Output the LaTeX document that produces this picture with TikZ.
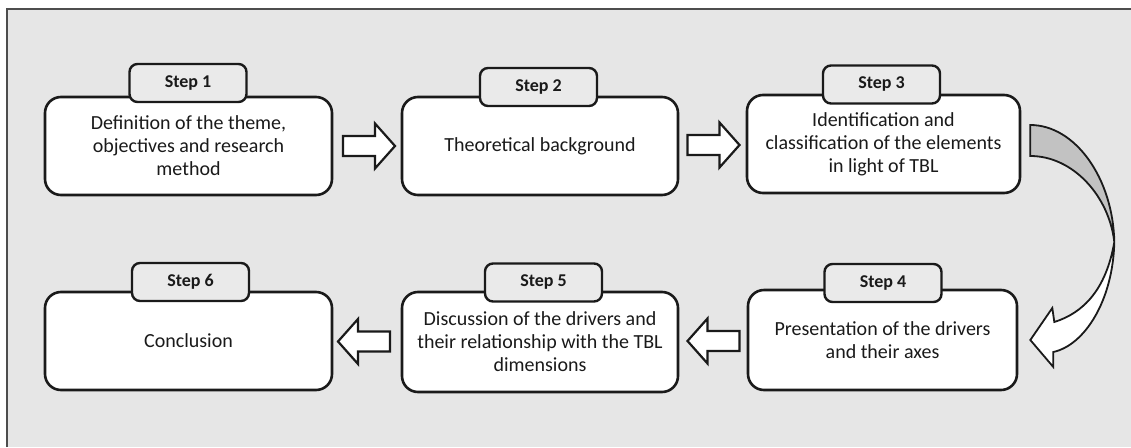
\documentclass[tikz,border=0pt]{standalone}
\usepackage{fontspec}
\setmainfont{Carlito}
\usetikzlibrary{calc}
\definecolor{bg}{HTML}{E6E6E6}
\definecolor{tabfill}{HTML}{EAEAEA}
\definecolor{crescent}{HTML}{C2C2C2}
\definecolor{ink}{HTML}{1A1A1A}
\definecolor{framec}{HTML}{4D4D4D}
\begin{document}
\begin{tikzpicture}[x=1pt,y=-1pt,
  mainbox/.style={draw=ink, line width=2.6pt, fill=white, rounded corners=16pt, align=center,
    font=\fontsize{20}{23}\selectfont, text=ink, inner sep=0pt},
  tabbox/.style={draw=ink, line width=2.4pt, fill=tabfill, rounded corners=8pt,
    minimum width=117pt, minimum height=38pt, font=\bfseries\fontsize{18}{20}\selectfont,
    text=ink, inner sep=0pt},
  barr/.style={draw=ink, line width=2.2pt, fill=white, line join=miter},
  curvarr/.style={draw=ink, line width=1.8pt, line join=miter},
]
\useasboundingbox (0,0) rectangle (1131,447);
\fill[white] (0,0) rectangle (1131,447);
\fill[bg] (7,9) rectangle (1131,447);
\draw[framec, line width=1.8pt] (7,447) -- (7,9) -- (1131,9);

% main boxes
\node[mainbox, minimum width=287pt, minimum height=98pt] (b1) at (188.5,146)
  {Definition of the theme,\\objectives and research\\method};
\node[mainbox, minimum width=276pt, minimum height=98pt] (b2) at (540,146)
  {Theoretical background};
\node[mainbox, minimum width=273pt, minimum height=98pt] (b3) at (883.5,144)
  {Identification and\\classification of the elements\\in light of TBL};
\node[mainbox, minimum width=269pt, minimum height=100pt] (b4) at (882.5,340)
  {Presentation of the drivers\\and their axes};
\node[mainbox, minimum width=276pt, minimum height=100pt] (b5) at (540,342)
  {Discussion of the drivers and\\their relationship with the TBL\\dimensions};
\node[mainbox, minimum width=287pt, minimum height=98pt] (b6) at (188.5,341)
  {Conclusion};

% tabs
\node[tabbox] (t1) at (188,83) {Step 1};
\node[tabbox] (t2) at (538.5,87) {Step 2};
\node[tabbox] (t3) at (881.5,84.5) {Step 3};
\node[tabbox] (t4) at (883,283) {Step 4};
\node[tabbox] (t5) at (543.5,282.5) {Step 5};
\node[tabbox] (t6) at (190.5,282) {Step 6};

% block arrows
\newcommand{\blockarr}[2]{%
  \draw[barr] (#1) +(-26*#2,-10) -- +(6*#2,-10) -- +(6*#2,-22.5) -- +(26*#2,0)
    -- +(6*#2,22.5) -- +(6*#2,10) -- +(-26*#2,10) -- cycle;}
\coordinate (m12) at ($(b1.east)!0.5!(b2.west)+(2,0)$);
\coordinate (m23) at ($(b2.east)!0.5!(b3.west)+(1,0)$);
\coordinate (m45) at ($(b5.east)!0.5!(b4.west)+(0.5,0)$);
\coordinate (m56) at ($(b6.east)!0.5!(b5.west)+(-3,0)$);
\blockarr{m12}{1}
\blockarr{m23}{1}
\blockarr{m45}{-1}
\blockarr{m56}{-1}

% curved arrow from step 3 to step 4
\coordinate (ca) at ($(b3.east)+(9,-19)$);
\coordinate (cb) at ($(b3.east)+(9,12)$);
\coordinate (cx) at ($(b3.east)+(93,98)$);
\coordinate (ct) at ($(b4.east)+(12,0)$);
\coordinate (w1) at ($(ct)+(23,12)$);
\coordinate (w2) at ($(ct)+(23,27)$);
\coordinate (h1) at ($(ct)+(22,-32)$);
\coordinate (w3) at ($(ct)+(24,-18)$);
\filldraw[curvarr, fill=crescent] (ca) .. controls (1075,125) and (1113,178) .. (cx)
  .. controls (1109,196) and (1073,156) .. (cb) -- cycle;
\filldraw[curvarr, fill=white] (cx) .. controls (1113,300) and (1085,345) .. (w1)
  -- (w2) -- (ct) -- (h1) -- (w3) .. controls (1083,313) and (1106,290) .. (cx) -- cycle;
\end{tikzpicture}
\end{document}
